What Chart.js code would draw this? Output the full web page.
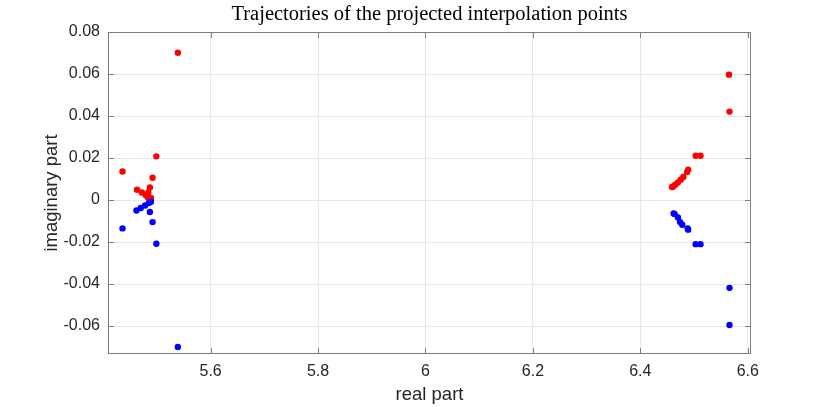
<!DOCTYPE html>
<html>
<head>
<meta charset="utf-8">
<script src="https://cdn.jsdelivr.net/npm/chart.js@4/dist/chart.umd.min.js"></script>
<style>
  html, body { margin: 0; padding: 0; background: #fff; }
  #wrap { width: 830px; height: 407px; }
</style>
</head>
<body>
<div id="wrap"><canvas id="traj" width="830" height="407"></canvas></div>
<script>
// ─── Data ────────────────────────────────────────────────────────────────
const redReal  = [5.539, 5.499, 5.436, 5.492, 5.487, 5.463, 5.472, 5.484, 5.479, 5.483, 5.489,
                  6.565, 6.566, 6.503, 6.512, 6.489, 6.487, 6.480, 6.475, 6.470, 6.465, 6.461, 6.459];
const redImag  = [0.0701, 0.0208, 0.0136, 0.0106, 0.0060, 0.0049, 0.0036, 0.0036, 0.0024, 0.0013, 0.0010,
                  0.0597, 0.0421, 0.0211, 0.0211, 0.0144, 0.0134, 0.0110, 0.0097, 0.0084, 0.0073, 0.0065, 0.0062];
const blueReal = [5.539, 5.499, 5.436, 5.492, 5.487, 5.462, 5.470, 5.478, 5.485, 5.489,
                  6.566, 6.566, 6.503, 6.512, 6.489, 6.488, 6.478, 6.474, 6.470, 6.464, 6.462];
const blueImag = [-0.0700, -0.0208, -0.0135, -0.0105, -0.0057, -0.0050, -0.0038, -0.0026, -0.0014, -0.0008,
                  -0.0595, -0.0418, -0.0210, -0.0210, -0.0141, -0.0135, -0.0118, -0.0105, -0.0083, -0.0067, -0.0064];

const xTicks = [5.6, 5.8, 6.0, 6.2, 6.4, 6.6];
const yTicks = [0.08, 0.06, 0.04, 0.02, 0, -0.02, -0.04, -0.06];
const xTickLabels = ['5.6', '5.8', '6', '6.2', '6.4', '6.6'];
const yTickLabels = ['0.08', '0.06', '0.04', '0.02', '0', '-0.02', '-0.04', '-0.06'];

const titleText = 'Trajectories of the projected interpolation points';
const xLabel = 'real part';
const yLabel = 'imaginary part';

const toPoints = (xs, ys) => xs.map((x, i) => ({ x, y: ys[i] }));

const AXIS_COLOR = '#7d7d7d';
const TEXT_COLOR = '#262626';

// MATLAB-ish frame: box, inward ticks, titles
const matlabFrame = {
    id: 'matlabFrame',
    afterDraw(chart) {
        const { ctx, chartArea: a, scales: { x, y } } = chart;
        ctx.save();
        ctx.strokeStyle = AXIS_COLOR;
        ctx.lineWidth = 1;
        ctx.strokeRect(a.left + 0.5, a.top + 0.5, a.right - a.left - 1, a.bottom - a.top - 1);

        ctx.beginPath();
        xTicks.forEach(v => {
            const px = Math.round(x.getPixelForValue(v)) + 0.5;
            ctx.moveTo(px, a.bottom); ctx.lineTo(px, a.bottom - 6);
            ctx.moveTo(px, a.top);    ctx.lineTo(px, a.top + 6);
        });
        yTicks.forEach(v => {
            const py = Math.round(y.getPixelForValue(v)) + 0.5;
            ctx.moveTo(a.left, py);  ctx.lineTo(a.left + 6, py);
            ctx.moveTo(a.right, py); ctx.lineTo(a.right - 6, py);
        });
        ctx.stroke();

        ctx.fillStyle = '#000';
        ctx.textAlign = 'center';
        ctx.textBaseline = 'alphabetic';
        ctx.font = '20.5px "Liberation Serif"';
        ctx.fillText(titleText, (a.left + a.right) / 2, 20);

        ctx.fillStyle = TEXT_COLOR;
        ctx.font = '18.5px "Liberation Sans"';
        ctx.fillText(xLabel, (a.left + a.right) / 2, 400);

        ctx.textBaseline = 'middle';
        ctx.translate(52, (a.top + a.bottom) / 2);
        ctx.rotate(-Math.PI / 2);
        ctx.fillText(yLabel, 0, 0);
        ctx.restore();
    }
};

new Chart(document.getElementById('traj'), {
    type: 'scatter',
    data: {
        datasets: [
            {
                label: 'conjugate',
                data: toPoints(blueReal, blueImag),
                backgroundColor: '#0000ff',
                borderWidth: 0,
                pointRadius: 3.2
            },
            {
                label: 'projected',
                data: toPoints(redReal, redImag),
                backgroundColor: '#ff0000',
                borderWidth: 0,
                pointRadius: 3.2
            }
        ]
    },
    options: {
        responsive: false,
        animation: false,
        layout: { padding: { top: 32, right: 79, left: 0, bottom: 0 } },
        plugins: {
            legend: { display: false },
            tooltip: { enabled: false }
        },
        scales: {
            x: {
                type: 'linear',
                min: 5.409,
                max: 6.606,
                afterBuildTicks: s => { s.ticks = xTicks.map(v => ({ value: v })); },
                afterFit: s => { s.height = 53; },
                grid: { color: '#e8e8e8', drawTicks: false },
                border: { display: false },
                ticks: {
                    padding: 8,
                    color: TEXT_COLOR,
                    font: { family: 'Liberation Sans', size: 16 },
                    maxRotation: 0,
                    callback: (v) => xTickLabels[xTicks.indexOf(v)] ?? ''
                }
            },
            y: {
                type: 'linear',
                min: -0.0733,
                max: 0.08,
                afterBuildTicks: s => { s.ticks = yTicks.map(v => ({ value: v })); },
                afterFit: s => { s.width = 108; },
                grid: { color: '#e8e8e8', drawTicks: false },
                border: { display: false },
                ticks: {
                    padding: 8,
                    color: TEXT_COLOR,
                    font: { family: 'Liberation Sans', size: 16 },
                    callback: (v) => yTickLabels[yTicks.indexOf(v)] ?? ''
                }
            }
        }
    },
    plugins: [matlabFrame]
});
</script>
</body>
</html>
